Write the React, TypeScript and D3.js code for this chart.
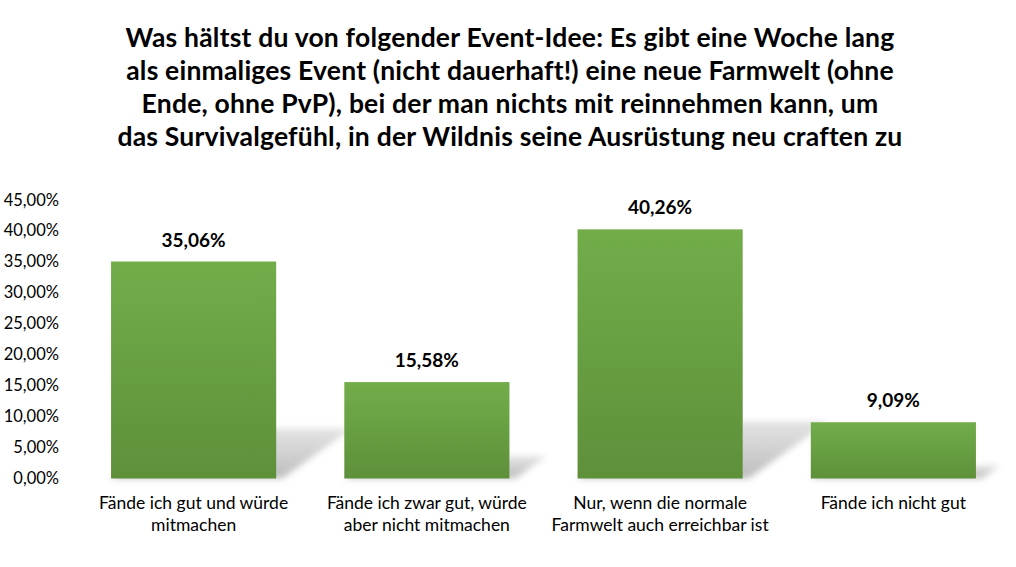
import React from "react";
import * as d3 from "d3";

const titleLines = [
  "Was hältst du von folgender Event-Idee: Es gibt eine Woche lang",
  "als einmaliges Event (nicht dauerhaft!) eine neue Farmwelt (ohne",
  "Ende, ohne PvP), bei der man nichts mit reinnehmen kann, um",
  "das Survivalgefühl, in der Wildnis seine Ausrüstung neu craften zu",
];
const categories = [
  ["Fände ich gut und würde", "mitmachen"],
  ["Fände ich zwar gut, würde", "aber nicht mitmachen"],
  ["Nur, wenn die normale", "Farmwelt auch erreichbar ist"],
  ["Fände ich nicht gut"],
];
const values = [35.06, 15.58, 40.26, 9.09];
const yTicks = [0, 5, 10, 15, 20, 25, 30, 35, 40, 45];

const W = 1016;
const H = 567;
const FONT = "Lato, 'Open Sans', sans-serif";

export default function App() {
  const x = d3
    .scaleBand<number>()
    .domain(d3.range(values.length))
    .range([77, 1010])
    .paddingInner(0.292)
    .paddingOuter(0.146);
  const y = d3.scaleLinear().domain([0, 45]).range([478.5, 200]);
  const fmt = (v: number) => v.toFixed(2).replace(".", ",") + "%";
  const base = y(0);

  return (
    <svg width={W} height={H} style={{ position: "absolute", left: 0, top: 0 }}>
      <defs>
        <linearGradient id="barGrad" x1="0" y1="0" x2="0" y2="1">
          <stop offset="0%" stopColor="#72ad4a" />
          <stop offset="100%" stopColor="#5e903a" />
        </linearGradient>
        <linearGradient id="shGrad" x1="0" y1="1" x2="0" y2="0">
          <stop offset="0%" stopColor="#bdbdbd" />
          <stop offset="100%" stopColor="#e4e4e4" />
        </linearGradient>
        <filter id="blur" x="-20%" y="-50%" width="140%" height="200%">
          <feGaussianBlur stdDeviation="3" />
        </filter>
      </defs>
      <rect width={W} height={H} fill="#fff" />
      <g fontFamily={FONT} fontWeight="bold" fontSize={26.5} textAnchor="middle" fill="#000" letterSpacing={0.2}>
        {titleLines.map((t, i) => (
          <text key={i} x={510} y={47 + i * 33}>
            {t}
          </text>
        ))}
      </g>
      <g fontFamily={FONT} fontSize={16.5} textAnchor="end" fill="#000">
        {yTicks.map((t) => (
          <text key={t} x={59} y={y(t) + 5.5}>
            {fmt(t)}
          </text>
        ))}
      </g>
      <g filter="url(#blur)">
        {values.map((v, i) => {
          const x0 = x(i)!;
          const x1 = x0 + x.bandwidth();
          const sh = (base - y(v)) * 0.23;
          const dx = sh * 1.4;
          return (
            <polygon
              key={i}
              points={`${x0},${base} ${x1 + 6},${base} ${x1 + dx + 6},${base - sh} ${x0 + dx},${base - sh}`}
              fill="url(#shGrad)"
            />
          );
        })}
      </g>
      {values.map((v, i) => (
        <rect
          key={i}
          x={x(i)!}
          y={y(v)}
          width={x.bandwidth()}
          height={base - y(v)}
          fill="url(#barGrad)"
        />
      ))}
      <g fontFamily={FONT} fontWeight="bold" fontSize={19} textAnchor="middle" fill="#000">
        {values.map((v, i) => (
          <text key={i} x={x(i)! + x.bandwidth() / 2} y={y(v) - 15}>
            {fmt(v)}
          </text>
        ))}
      </g>
      <g fontFamily={FONT} fontSize={17.5} textAnchor="middle" fill="#000">
        {categories.map((lines, i) =>
          lines.map((l, j) => (
            <text key={i + "-" + j} x={x(i)! + x.bandwidth() / 2} y={509 + j * 22}>
              {l}
            </text>
          ))
        )}
      </g>
    </svg>
  );
}
